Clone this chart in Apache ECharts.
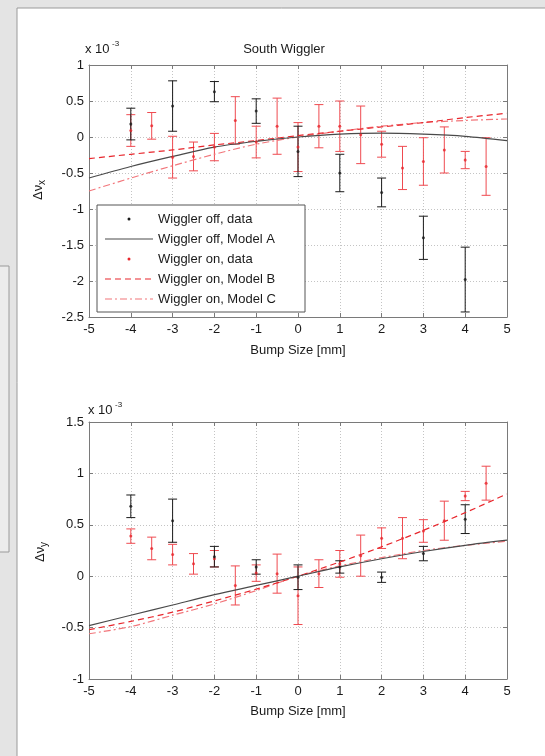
<!DOCTYPE html>
<html>
<head>
<meta charset="utf-8">
<script src="https://cdn.jsdelivr.net/npm/echarts@6/dist/echarts.min.js"></script>
<style>
  html, body { margin: 0; padding: 0; background: #e4e4e4; }
  #chart { width: 545px; height: 756px; }
</style>
</head>
<body>
<div id="chart"></div>
<script>
// Tune shift vs. bump size, South Wiggler (values in units of 1e-3)

// x-axis ticks (bump size, mm)
const bumpTicks = [-5, -4, -3, -2, -1, 0, 1, 2, 3, 4, 5];

// Wiggler off measurements
const offBump = [-4, -3, -2, -1, 0, 1, 2, 3, 4];
const offNuX = [0.18, 0.43, 0.63, 0.36, -0.2, -0.5, -0.77, -1.4, -1.98];
const offNuXErr = [0.22, 0.35, 0.14, 0.17, 0.35, 0.26, 0.2, 0.3, 0.45];
const offNuY = [0.68, 0.54, 0.19, 0.09, -0.01, 0.09, -0.01, 0.22, 0.555];
const offNuYErr = [0.11, 0.21, 0.1, 0.07, 0.12, 0.06, 0.05, 0.07, 0.14];

// Wiggler on measurements
const onBump = [-4, -3.5, -3, -2.5, -2, -1.5, -1, -0.5, 0, 0.5, 1, 1.5, 2, 2.5, 3, 3.5, 4, 4.5];
const onNuX = [0.09, 0.155, -0.28, -0.27, -0.14, 0.23, -0.07, 0.15, -0.14, 0.15, 0.15, 0.03, -0.1, -0.43, -0.34, -0.18, -0.32, -0.41];
const onNuXErr = [0.22, 0.185, 0.29, 0.2, 0.19, 0.33, 0.22, 0.39, 0.34, 0.3, 0.35, 0.4, 0.18, 0.3, 0.33, 0.32, 0.12, 0.4];
const onNuY = [0.39, 0.27, 0.21, 0.12, 0.17, -0.09, 0.03, 0.025, -0.19, 0.025, 0.12, 0.2, 0.37, 0.37, 0.44, 0.54, 0.78, 0.905];
const onNuYErr = [0.07, 0.11, 0.1, 0.1, 0.08, 0.19, 0.08, 0.19, 0.28, 0.135, 0.13, 0.2, 0.1, 0.2, 0.11, 0.19, 0.045, 0.165];

// Model curves sampled at the integer bump sizes
const modelBump = [-5, -4, -3, -2, -1, 0, 1, 2, 3, 4, 5];
const modelAX = [-0.57, -0.41, -0.27, -0.14, -0.06, 0, 0.04, 0.055, 0.04, 0.01, -0.05];
const modelBX = [-0.3, -0.24, -0.18, -0.11, -0.05, 0.02, 0.08, 0.14, 0.2, 0.27, 0.33];
const modelCX = [-0.75, -0.57, -0.4, -0.24, -0.1, 0, 0.08, 0.15, 0.2, 0.23, 0.25];
const modelAY = [-0.48, -0.38, -0.28, -0.18, -0.09, 0, 0.09, 0.17, 0.24, 0.3, 0.35];
const modelBY = [-0.52, -0.44, -0.35, -0.24, -0.126, 0, 0.138, 0.286, 0.446, 0.618, 0.8];
const modelCY = [-0.56, -0.49, -0.38, -0.27, -0.14, 0, 0.1, 0.18, 0.25, 0.3, 0.34];

// y tick ranges
const nuXTicks = [-2.5, -2, -1.5, -1, -0.5, 0, 0.5, 1];
const nuYTicks = [-1, -0.5, 0, 0.5, 1, 1.5];

const FONT = 'Liberation Sans, Arial, Helvetica, sans-serif';
const BLACK = '#1a1a1a';
const GRAY_LINE = '#4a4a4a';
const RED = '#e8262c';
const RED_ERR = '#ef4a50';
const PINK = '#f2767b';
const AXIS = '#7a7a7a';

const pairs = (xs, ys) => xs.map((x, i) => [x, ys[i]]);
const bars = (xs, ys, es) => xs.map((x, i) => [x, ys[i] - es[i], ys[i] + es[i]]);

function errorBar(color) {
  return function (params, api) {
    const x = api.value(0);
    const lo = api.coord([x, api.value(1)]);
    const hi = api.coord([x, api.value(2)]);
    const w = 4.5;
    const style = { stroke: color, lineWidth: 1 };
    return {
      type: 'group',
      children: [
        { type: 'line', shape: { x1: hi[0], y1: hi[1], x2: lo[0], y2: lo[1] }, style },
        { type: 'line', shape: { x1: hi[0] - w, y1: hi[1], x2: hi[0] + w, y2: hi[1] }, style },
        { type: 'line', shape: { x1: lo[0] - w, y1: lo[1], x2: lo[0] + w, y2: lo[1] }, style }
      ]
    };
  };
}

const boxLine = { show: true, onZero: false, lineStyle: { color: AXIS } };
const innerTick = { show: true, inside: true, length: 4, lineStyle: { color: AXIS } };
const dottedGrid = { show: true, lineStyle: { color: '#c4c4c4', type: [1, 2] } };

function xAxes(gridIndex, nameGap) {
  const min = bumpTicks[0], max = bumpTicks[bumpTicks.length - 1];
  return [
    {
      type: 'value', gridIndex, position: 'bottom', min, max, interval: 1,
      name: 'Bump Size [mm]', nameLocation: 'middle', nameGap,
      nameTextStyle: { fontFamily: FONT, fontSize: 13, color: BLACK },
      axisLine: boxLine, axisTick: innerTick,
      axisLabel: { fontFamily: FONT, fontSize: 13, color: BLACK, margin: 6 },
      splitLine: dottedGrid
    },
    {
      type: 'value', gridIndex, position: 'top', min, max, interval: 1,
      axisLine: boxLine, axisTick: innerTick,
      axisLabel: { show: false }, splitLine: { show: false }
    }
  ];
}

function yAxes(gridIndex, ticks) {
  const min = ticks[0], max = ticks[ticks.length - 1];
  return [
    {
      type: 'value', gridIndex, position: 'left', min, max, interval: 0.5,
      axisLine: boxLine, axisTick: innerTick,
      axisLabel: { fontFamily: FONT, fontSize: 13, color: BLACK, margin: 5 },
      splitLine: dottedGrid
    },
    {
      type: 'value', gridIndex, position: 'right', min, max, interval: 0.5,
      axisLine: boxLine, axisTick: innerTick,
      axisLabel: { show: false }, splitLine: { show: false }
    }
  ];
}

function panelSeries(xi, yi, offY, offE, onY, onE, mA, mB, mC) {
  const ax = { xAxisIndex: xi, yAxisIndex: yi };
  return [
    Object.assign({ type: 'custom', name: 'on-err', renderItem: errorBar(RED_ERR), data: bars(onBump, onY, onE), z: 2 }, ax),
    Object.assign({ type: 'custom', name: 'off-err', renderItem: errorBar(BLACK), data: bars(offBump, offY, offE), z: 3 }, ax),
    Object.assign({ type: 'line', name: 'Model C', data: pairs(modelBump, mC), symbol: 'none', smooth: 0.3,
      lineStyle: { color: PINK, width: 1.2, type: [7, 3, 2, 3] }, z: 4 }, ax),
    Object.assign({ type: 'line', name: 'Model B', data: pairs(modelBump, mB), symbol: 'none', smooth: 0.3,
      lineStyle: { color: RED, width: 1.2, type: [6, 4] }, z: 4 }, ax),
    Object.assign({ type: 'line', name: 'Model A', data: pairs(modelBump, mA), symbol: 'none', smooth: 0.3,
      lineStyle: { color: GRAY_LINE, width: 1.2 }, z: 5 }, ax),
    Object.assign({ type: 'scatter', name: 'on-data', data: pairs(onBump, onY), symbol: 'circle', symbolSize: 3,
      itemStyle: { color: RED }, z: 6 }, ax),
    Object.assign({ type: 'scatter', name: 'off-data', data: pairs(offBump, offY), symbol: 'circle', symbolSize: 3,
      itemStyle: { color: BLACK }, z: 6 }, ax)
  ];
}

// Legend drawn as graphics inside the upper panel
const legendRows = [
  { label: 'Wiggler off, data', kind: 'dot', color: BLACK },
  { label: 'Wiggler off, Model A', kind: 'line', color: GRAY_LINE, dash: null },
  { label: 'Wiggler on, data', kind: 'dot', color: RED },
  { label: 'Wiggler on, Model B', kind: 'line', color: RED, dash: [6, 4] },
  { label: 'Wiggler on, Model C', kind: 'line', color: PINK, dash: [7, 3, 2, 3] }
];
const LEG_X = 97, LEG_Y = 205, LEG_W = 208, LEG_H = 107, ROW_H = 20;
const legendGraphics = [{
  type: 'rect', shape: { x: LEG_X, y: LEG_Y, width: LEG_W, height: LEG_H },
  style: { fill: '#fff', stroke: '#555', lineWidth: 1 }, z: 100
}];
legendRows.forEach((r, i) => {
  const cy = LEG_Y + 14 + i * ROW_H;
  if (r.kind === 'dot') {
    legendGraphics.push({ type: 'circle', shape: { cx: 129, cy, r: 1.5 }, style: { fill: r.color }, z: 101 });
  } else {
    legendGraphics.push({ type: 'line', shape: { x1: 105, y1: cy, x2: 153, y2: cy },
      style: { stroke: r.color, lineWidth: 1.2, lineDash: r.dash }, z: 101 });
  }
  legendGraphics.push({ type: 'text', x: 158, y: cy, style: { text: r.label, font: '13px ' + FONT,
    fill: BLACK, verticalAlign: 'middle' }, z: 101 });
});

function nuLabel(x, y, sub) {
  return {
    type: 'group', x, y, rotation: Math.PI / 2,
    children: [
      { type: 'text', x: -10, y: 0, style: { text: 'Δν', font: '13px ' + FONT, fill: BLACK, verticalAlign: 'middle' } },
      { type: 'text', x: 5, y: 4, style: { text: sub, font: '10px ' + FONT, fill: BLACK, verticalAlign: 'middle' } }
    ]
  };
}

function exponent(x, y) {
  return {
    type: 'group', x, y,
    children: [
      { type: 'text', x: 0, y: 0, style: { text: 'x 10', font: '13px ' + FONT, fill: BLACK, verticalAlign: 'middle' } },
      { type: 'text', x: 27, y: -5, style: { text: '-3', font: '8px ' + FONT, fill: BLACK, verticalAlign: 'middle' } }
    ]
  };
}

const chart = echarts.init(document.getElementById('chart'), null, { renderer: 'canvas' });
chart.setOption({
  backgroundColor: '#e4e4e4',
  animation: false,
  grid: [
    { left: 89, top: 65, width: 418, height: 252, show: true, backgroundColor: '#fff', borderWidth: 0 },
    { left: 89, top: 422, width: 418, height: 257, show: true, backgroundColor: '#fff', borderWidth: 0 }
  ],
  xAxis: [...xAxes(0, 27), ...xAxes(1, 26)],
  yAxis: [...yAxes(0, nuXTicks), ...yAxes(1, nuYTicks)],
  series: [
    ...panelSeries(0, 0, offNuX, offNuXErr, onNuX, onNuXErr, modelAX, modelBX, modelCX),
    ...panelSeries(2, 2, offNuY, offNuYErr, onNuY, onNuYErr, modelAY, modelBY, modelCY)
  ],
  graphic: [
    // figure window panel
    { type: 'rect', shape: { x: 17, y: 8, width: 540, height: 760 }, style: { fill: '#fff', stroke: '#9a9a9a', lineWidth: 1 }, z: -10 },
    { type: 'rect', shape: { x: -20, y: 266, width: 29, height: 286 }, style: { fill: '#ececec', stroke: '#9a9a9a', lineWidth: 1 }, z: -10 },
    { type: 'text', x: 284, y: 49, style: { text: 'South Wiggler', font: '13px ' + FONT, fill: BLACK, align: 'center', verticalAlign: 'middle' } },
    exponent(85, 49),
    exponent(88, 410),
    nuLabel(38, 190, 'x'),
    nuLabel(40, 552, 'y'),
    ...legendGraphics
  ]
});
</script>
</body>
</html>
